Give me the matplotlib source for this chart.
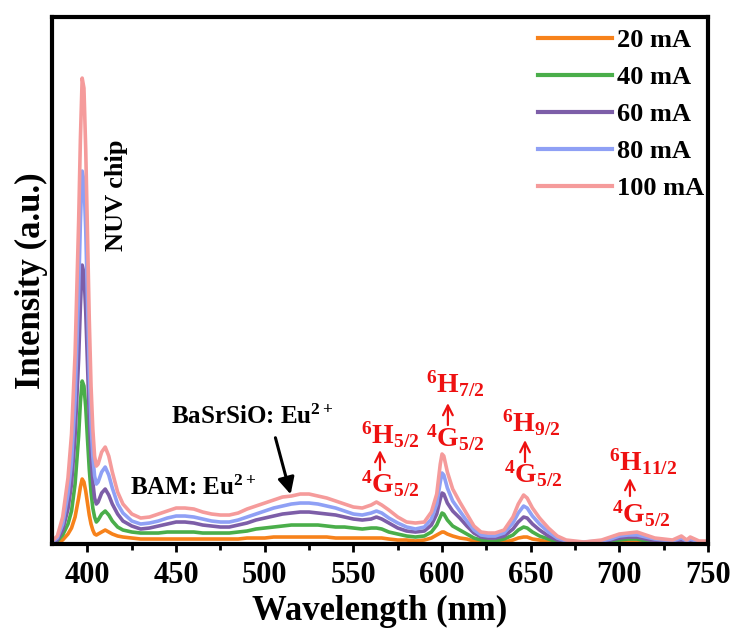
import matplotlib
matplotlib.use("Agg")
import matplotlib.pyplot as plt
from matplotlib.ticker import MultipleLocator

plt.rcParams['font.family'] = ['Liberation Serif', 'DejaVu Serif']
plt.rcParams['font.weight'] = 'bold'
plt.rcParams['mathtext.fontset'] = 'custom'
plt.rcParams['mathtext.rm'] = 'Liberation Serif:bold'
plt.rcParams['mathtext.it'] = 'Liberation Serif:bold'
plt.rcParams['mathtext.bf'] = 'Liberation Serif:bold'

# wavelength grid (nm)
wavelength = [380, 383, 386, 389, 391, 393, 395, 396, 397, 398, 399, 400, 401, 402, 403, 404,
              405, 406, 408, 410, 412, 414, 417, 420, 425, 430, 435, 440, 445, 450, 455, 460,
              465, 470, 475, 480, 485, 490, 495, 500, 505, 510, 515, 520, 525, 530, 535, 540,
              545, 550, 555, 560, 563, 566, 570, 575, 580, 585, 590, 594, 597, 599, 600, 601,
              603, 606, 610, 614, 618, 622, 626, 630, 635, 640, 643, 646, 648, 651, 655, 660,
              665, 670, 675, 680, 690, 695, 700, 705, 710, 715, 720, 725, 730, 735, 738, 740,
              745, 750]

i_20 = [0, 1, 4, 10, 16, 27, 46, 57, 65, 62, 53, 41, 29, 20, 14, 10,
        9, 10, 12, 14, 12, 10, 8, 7, 6, 5, 5, 5, 5, 5, 5, 5,
        5, 5, 5, 5, 5, 6, 6, 6, 7, 7, 7, 7, 7, 7, 7, 6,
        6, 6, 6, 6, 6, 6, 5, 4, 4, 3, 4, 6, 9, 11, 12, 12,
        10, 8, 6, 5, 3, 2, 2, 2, 2, 4, 6, 7, 7, 5, 4, 2,
        1, 1, 1, 1, 1, 1, 2, 2, 2, 2, 1, 1, 1, 2, 1, 1,
        1, 1]

i_40 = [1, 3, 9, 20, 33, 60, 108, 142, 163, 158, 137, 105, 75, 52, 36, 27,
        22, 24, 30, 33, 29, 23, 17, 14, 12, 11, 11, 11, 12, 12, 12, 12,
        11, 11, 11, 11, 12, 13, 15, 16, 17, 18, 19, 19, 19, 19, 18, 17,
        17, 16, 15, 16, 16, 15, 12, 10, 8, 7, 8, 12, 19, 27, 31, 30,
        24, 18, 14, 10, 6, 4, 3, 3, 5, 9, 14, 17, 16, 12, 8, 5,
        2, 1, 1, 1, 1, 3, 4, 5, 5, 3, 2, 2, 1, 3, 1, 2,
        1, 1]

i_60 = [1, 4, 14, 35, 60, 108, 185, 238, 279, 271, 233, 180, 127, 88, 62, 46,
        40, 42, 51, 55, 49, 40, 30, 23, 18, 15, 16, 18, 20, 22, 22, 21,
        19, 18, 17, 17, 19, 21, 24, 26, 28, 30, 31, 32, 32, 31, 30, 29,
        27, 25, 24, 25, 27, 25, 21, 16, 13, 12, 13, 19, 30, 45, 51, 50,
        41, 33, 26, 18, 11, 7, 6, 6, 8, 15, 22, 27, 26, 20, 14, 8,
        4, 2, 1, 1, 2, 4, 6, 7, 7, 5, 3, 3, 2, 4, 2, 3,
        1, 1]

i_80 = [2, 6, 20, 50, 82, 145, 252, 322, 373, 363, 315, 242, 172, 120, 88, 68,
        60, 62, 72, 77, 69, 56, 40, 31, 23, 20, 21, 23, 26, 28, 28, 27,
        25, 23, 22, 22, 24, 27, 30, 33, 36, 38, 40, 41, 41, 40, 38, 36,
        33, 30, 29, 31, 33, 31, 26, 21, 17, 15, 17, 25, 40, 62, 71, 69,
        56, 43, 33, 23, 14, 9, 8, 8, 11, 21, 31, 38, 36, 28, 20, 12,
        6, 3, 2, 2, 3, 5, 8, 9, 9, 7, 5, 4, 3, 6, 3, 5,
        2, 2]

i_100 = [3, 8, 27, 66, 110, 190, 322, 405, 466, 456, 395, 310, 225, 158, 115, 88,
         78, 80, 92, 97, 88, 72, 52, 40, 30, 26, 27, 30, 33, 36, 36, 35,
         32, 30, 29, 29, 31, 35, 38, 41, 44, 47, 48, 50, 50, 48, 46, 43,
         40, 37, 36, 39, 42, 39, 34, 27, 22, 21, 22, 32, 50, 80, 90, 88,
         72, 55, 42, 30, 18, 12, 11, 11, 14, 27, 40, 49, 46, 36, 26, 16,
         8, 4, 3, 2, 4, 7, 10, 11, 12, 9, 6, 5, 4, 8, 4, 7,
         3, 3]

labels = ['20 mA', '40 mA', '60 mA', '80 mA', '100 mA']
colors = ['#f7821b', '#4aae4a', '#7d5ea8', '#8fa0f5', '#f59b9b']
series = [i_20, i_40, i_60, i_80, i_100]

fig = plt.figure(figsize=(7.37, 6.41), dpi=100)
ax = fig.add_axes([0.0706, 0.1513, 0.890, 0.822])

for y, c, lab in zip(series, colors, labels):
    ax.plot(wavelength, y, color=c, lw=2.6, label=lab)

ax.set_xlim(380, 750)
ax.set_ylim(0, 527)
ax.xaxis.set_major_locator(MultipleLocator(50))
ax.xaxis.set_minor_locator(MultipleLocator(25))
ax.tick_params(axis='x', which='major', direction='out', length=6, width=2,
               labelsize=22, pad=6)
ax.tick_params(axis='x', which='minor', direction='out', length=4, width=2)
ax.tick_params(axis='y', left=False, labelleft=False)
for s in ax.spines.values():
    s.set_linewidth(3)

ax.set_xlabel('Wavelength (nm)', fontsize=25, fontweight='bold', labelpad=4)
ax.set_ylabel('Intensity (a.u.)', fontsize=25, fontweight='bold', labelpad=3)

leg = ax.legend(loc='upper right', bbox_to_anchor=(0.995, 0.978), frameon=False,
                fontsize=19, handlelength=2.8, handletextpad=0.2, labelspacing=0.51,
                borderpad=0, borderaxespad=0)
for line in leg.get_lines():
    line.set_linewidth(3)

# annotations
ax.text(416.4, 349, 'NUV chip', rotation=90, fontsize=19, ha='center', va='center')
ax.text(459.6, 56, r'BAM: Eu$^{2+}$', fontsize=18, ha='center', va='center')
ax.text(493.2, 127, r'BaSrSiO: Eu$^{2+}$', fontsize=18, ha='center', va='center')
ax.annotate('', xy=(515, 47), xytext=(505.6, 109),
            arrowprops=dict(arrowstyle='-|>', lw=2.2, color='black', mutation_scale=25))

red = '#ee1111'
# (H label x, y, text, arrow x, arrow bottom, arrow top, G label x, y)
trans = [
    (571, 109, r'$^{6}$H$_{5/2}$', 565, 74, 94, 571, 60),
    (607.2, 160, r'$^{6}$H$_{7/2}$', 603.3, 119, 141, 607.2, 106),
    (650.4, 121, r'$^{6}$H$_{9/2}$', 646.8, 82, 104, 651.3, 70),
    (713.7, 82, r'$^{6}$H$_{11/2}$', 706, 48, 66, 712.5, 30),
]
for hx, hy, htxt, axx, ay0, ay1, gx, gy in trans:
    ax.text(hx, hy, htxt, color=red, fontsize=20, ha='center', va='center')
    ax.annotate('', xy=(axx, ay1), xytext=(axx, ay0),
                arrowprops=dict(arrowstyle='->,head_length=0.5,head_width=0.25',
                                lw=1.6, color=red, mutation_scale=14,
                                shrinkA=0, shrinkB=0))
    ax.text(gx, gy, r'$^{4}$G$_{5/2}$', color=red, fontsize=20, ha='center', va='center')

fig.savefig('out.png', dpi=100)
